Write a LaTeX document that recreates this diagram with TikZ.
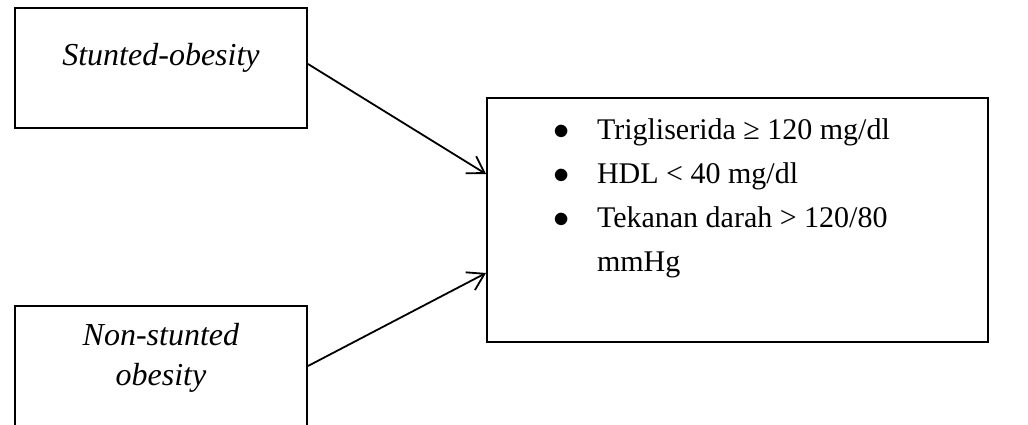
\documentclass[tikz,border=0pt]{standalone}
\usepackage{fontspec}
\setmainfont{Liberation Serif}
\usetikzlibrary{arrows.meta}

\tikzset{
  box/.style={draw, line width=2pt, inner sep=0pt, font=\fontsize{32}{40}\selectfont},
  flow/.style={-{Straight Barb[length=16pt,width=20pt]}, line width=1.8pt}
}
\newcommand{\riskitem}{\llap{\makebox[44pt][l]{\scalebox{1.3}{$\bullet$}}}}

\begin{document}
\begin{tikzpicture}[x=1pt,y=-1pt]
      \useasboundingbox (0,0) rectangle (1028,425);
      \clip (0,0) rectangle (1028,425);
      % groups
      \node[box] (stunted) at (161,68)
        {\parbox[c][120pt][t]{292pt}{\centering\vspace*{35pt}\textit{Stunted-obesity}}};
      \node[box] (nonstunted) at (161,366)
        {\parbox[c][120pt][t]{292pt}{\centering\vspace*{17pt}%
          \textit{Non-stunted}\\\textit{obesity}}};
      % outcome
      \node[box] (risk) at (737.5,220)
        {\parbox[c][244pt][t]{501pt}{\fontsize{30}{44}\selectfont\leftskip=110pt\vspace*{21pt}%
          \noindent\riskitem Trigliserida ≥ 120 mg/dl\\
          \riskitem HDL < 40 mg/dl\\
          \riskitem Tekanan darah > 120/80\\
          mmHg}};
      \begin{scope}[flow]
        \draw ([yshift=4pt]stunted.east) -- ([yshift=46pt]risk.west);
        \draw (nonstunted.east) -- ([yshift=-53pt]risk.west);
      \end{scope}
    \end{tikzpicture}
\end{document}
